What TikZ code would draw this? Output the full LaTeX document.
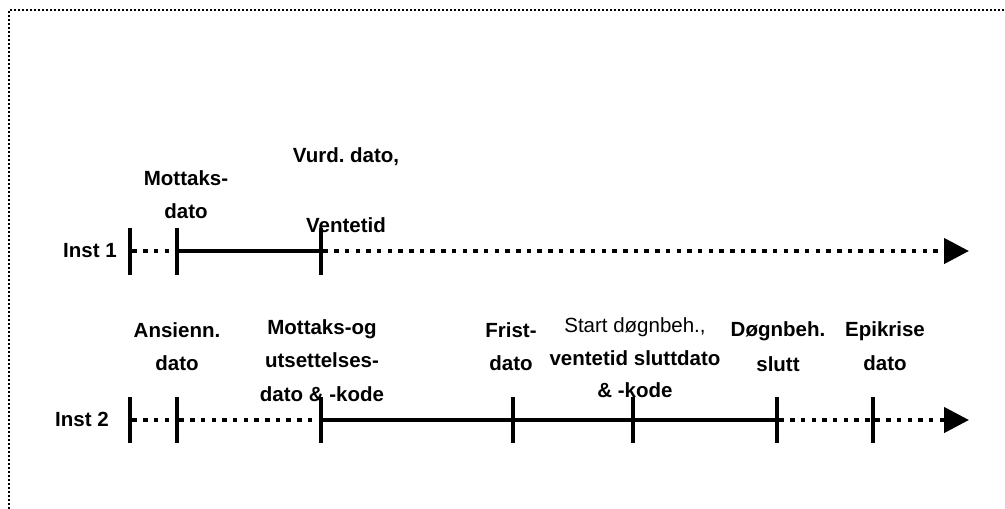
\documentclass[tikz,border=0pt]{standalone}
\usepackage{fontspec}
\setmainfont{Liberation Sans}
\usetikzlibrary{arrows.meta}
\frenchspacing
\begin{document}
\begin{tikzpicture}[x=1pt,y=-1pt,
  tickmark/.style={rectangle,fill=black,inner sep=0pt,minimum width=4.5pt,minimum height=47pt},
  lbl/.style={anchor=base,inner sep=0pt,align=center,font=\bfseries\fontsize{20.5}{33}\selectfont},
  solidline/.style={line width=4.5pt},
  dotline/.style={line width=4.5pt,dash pattern=on 4.5pt off 6.2pt},
  tip/.style={-{Triangle[length=25pt,width=25pt]}},
  frame/.style={line width=2pt,dash pattern=on 2pt off 2pt}]
\useasboundingbox (0,0) rectangle (1005,509);
% frame (top and left edges visible)
\coordinate (fb) at (9,509);
\coordinate (fc) at (9,10);
\coordinate (fr) at (1005,10);
\draw[frame] (fb) -- (fc) -- (fr);

% ---- Inst 1 ----
\node[tickmark] (a1) at (130,251) {};
\node[tickmark] (a2) at (177,251) {};
\node[tickmark] (a3) at (321,251) {};
\coordinate (ae) at (969,251);
\draw[dotline] (a1) -- (a2);
\draw[solidline] (a2) -- (a3);
\draw[dotline,tip] (a3) -- (ae);

\node[lbl] (i1) at (90,257) {Inst 1};
\node[lbl] (m1) at (186,218) {Mottaks-\\dato};
\node[lbl] (v1) at (346,232) {Vurd. dato,\\[37pt]Ventetid};

% ---- Inst 2 ----
\node[tickmark,minimum height=46pt] (b1) at (130,420) {};
\node[tickmark,minimum height=46pt] (b2) at (177,420) {};
\node[tickmark,minimum height=46pt] (b3) at (321,420) {};
\node[tickmark,minimum height=46pt] (b4) at (513,420) {};
\node[tickmark,minimum height=46pt] (b5) at (633,420) {};
\node[tickmark,minimum height=46pt] (b6) at (777,420) {};
\node[tickmark,minimum height=46pt] (b7) at (873,420) {};
\coordinate (be) at (969,420);
\draw[dotline] (b1) -- (b2);
\draw[dotline] (b2) -- (b3);
\draw[solidline] (b3) -- (b4);
\draw[solidline] (b4) -- (b5);
\draw[solidline] (b5) -- (b6);
\draw[dotline] (b6) -- (b7);
\draw[dotline,tip] (b7) -- (be);

\node[lbl] (i2) at (82,426) {Inst 2};
\node[lbl] (n1) at (177,370) {Ansienn.\\dato};
\node[lbl] (n2) at (322,401) {Mottaks-og\\utsettelses-\\[1pt]dato \& -kode};
\node[lbl] (n3) at (511,370) {Frist-\\dato};
\node[lbl] (n4) at (635,397) {{\mdseries Start døgnbeh.,}\\ventetid sluttdato\\[-1pt]\& -kode};
\node[lbl] (n5) at (778,371) {Døgnbeh.\\[2pt]slutt};
\node[lbl] (n6) at (885,370) {Epikrise\\[1pt]dato};
\end{tikzpicture}
\end{document}
